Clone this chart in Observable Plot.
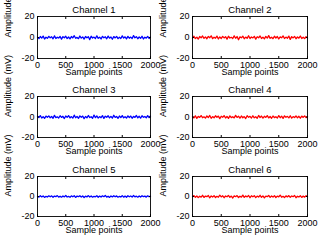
<!DOCTYPE html>
<html>
<head>
<meta charset="utf-8">
<script src="https://cdn.jsdelivr.net/npm/d3@7"></script>
<script src="https://cdn.jsdelivr.net/npm/@observablehq/plot@0.6"></script>
<style>
  html, body { margin: 0; padding: 0; background: #fff; }
  #chart { position: relative; width: 320px; height: 243px; overflow: hidden; }
  #chart > div { position: absolute; }
  svg { overflow: visible; }
</style>
</head>
<body>
<div id="chart"></div>
<script>
const titles = ["Channel 1", "Channel 2", "Channel 3", "Channel 4", "Channel 5", "Channel 6"];
const colors = ["#0000ff", "#ff0000", "#0000ff", "#ff0000", "#0000ff", "#ff0000"];
const xTicks = [0, 500, 1000, 1500, 2000];
const yTicks = [-20, 0, 20];
const xLabel = "Sample points";
const yLabel = "Amplitude (mV)";

const ch1 = [0.4,-1.1,0.9,-0.6,1.3,-1.4,0.2,-0.8,1.1,-0.3,0.7,-1.2,1.5,-0.9,0.3,-0.5,1.0,-1.6,0.8,-0.2,1.2,-1.0,0.5,-1.3,0.9,-0.4,1.7,-0.7,0.1,-1.1,1.4,-0.6,0.6,-1.5,1.0,-0.3,0.8,-2.0,1.2,-0.5,0.4,-1.0,1.6,-0.8,0.3,-1.4,1.1,-0.2,0.7,-1.2,1.3,-0.6,0.5,-1.7,0.9,-0.4,1.0,-1.1,0.2,-0.9,1.5,-0.5,0.6,-1.3,1.1,-0.7,0.4,-1.0,1.8,-0.3,0.8,-1.2,0.5,-0.8,1.2,-1.4,0.3,-0.6,1.0,-0.9,0.6];
const ch2 = [-0.6,1.2,-1.0,0.4,-1.5,0.9,-0.3,1.4,-0.8,0.6,-1.2,1.0,-0.2,1.6,-1.1,0.3,-0.7,1.3,-1.4,0.5,-0.9,1.1,-0.4,0.8,-1.6,1.2,-0.5,0.2,-1.0,1.5,-0.7,0.9,-2.1,0.6,-0.3,1.3,-1.2,0.4,-0.8,1.7,-1.0,0.5,-0.4,1.1,-1.5,0.7,-0.2,1.4,-0.9,0.3,-1.3,1.0,-0.6,1.8,-0.8,0.2,-1.1,1.2,-0.5,0.9,-1.4,0.6,-0.3,1.5,-1.0,0.4,-0.7,1.3,-1.8,0.8,-0.4,1.0,-1.2,0.5,-0.6,1.4,-0.9,0.3,-1.1,0.7,-0.5];
const ch3 = [0.8,-0.5,1.3,-1.0,0.3,-1.4,0.9,-0.2,1.1,-0.8,0.5,-1.2,1.6,-0.6,0.2,-1.0,1.2,-0.4,0.7,-1.5,1.0,-0.3,1.4,-0.9,0.4,-1.1,1.8,-0.7,0.6,-1.3,1.1,-0.2,0.9,-1.6,0.5,-0.8,1.5,-0.5,0.3,-1.2,1.9,-0.6,1.0,-1.0,0.4,-0.7,1.3,-1.4,0.8,-0.3,1.2,-0.9,0.6,-1.1,1.7,-0.4,0.5,-1.3,1.0,-0.6,1.4,-0.8,0.3,-1.0,1.1,-0.5,0.9,-1.2,0.6,-0.4,1.5,-0.9,0.7,-1.1,1.2,-0.3,0.5,-0.8,1.3,-0.6,1.0];
const ch4 = [0.3,-0.9,1.1,-1.3,0.6,-0.4,1.4,-0.7,0.2,-1.1,1.0,-0.5,1.5,-1.2,0.4,-0.8,1.2,-0.3,0.9,-1.6,0.7,-0.2,1.3,-1.0,0.5,-1.4,1.1,-0.6,0.3,-0.9,1.6,-0.4,0.8,-1.2,1.0,-0.7,0.4,-1.5,1.3,-0.3,0.6,-1.0,1.2,-0.8,0.2,-1.3,1.5,-0.5,0.9,-1.1,0.7,-0.4,1.4,-0.9,0.5,-1.2,1.0,-0.6,0.3,-1.0,1.3,-0.7,0.8,-1.4,1.1,-0.3,0.6,-0.9,1.2,-1.1,0.4,-0.5,1.0,-0.8,0.7,-1.2,0.9,-0.4,1.1,-0.6,0.5];
const ch5 = [0.3,-0.6,0.8,-0.4,0.5,-0.9,0.2,-0.5,0.7,-0.3,0.6,-0.8,0.4,-0.2,0.9,-0.6,0.3,-0.7,0.5,-0.4,1.0,-0.5,0.2,-0.8,0.6,-0.3,0.7,-0.9,0.4,-0.2,0.8,-0.6,0.5,-1.0,0.3,-0.4,0.9,-0.5,0.6,-0.7,0.2,-0.3,0.8,-0.8,0.4,-0.5,0.7,-0.2,1.1,-0.6,0.3,-0.9,0.5,-0.4,0.8,-0.3,0.6,-0.7,0.2,-0.5,0.9,-0.6,0.4,-0.8,0.7,-0.3,0.5,-0.6,1.0,-0.4,0.3,-0.7,0.6,-0.5,0.8,-0.2,0.4,-0.6,0.7,-0.3,0.5];
const ch6 = [-0.4,0.9,-0.7,0.5,-1.1,0.3,-0.6,1.2,-0.9,0.4,-0.2,1.0,-1.3,0.6,-0.5,0.8,-1.0,0.2,-0.7,1.3,-0.4,0.7,-1.2,0.5,-0.3,1.1,-0.8,0.4,-1.5,0.6,-0.2,0.9,-1.0,0.3,-0.6,1.4,-0.9,0.5,-0.4,1.0,-1.2,0.7,-0.3,0.8,-1.1,0.4,-0.5,1.2,-0.8,0.6,-1.4,0.3,-0.2,1.1,-0.9,0.5,-0.6,0.8,-1.0,0.4,-0.3,1.3,-0.7,0.2,-1.1,0.6,-0.4,0.9,-0.8,0.5,-0.2,1.0,-1.2,0.3,-0.5,0.7,-0.9,0.4,-0.6,0.8,-0.3];
const channels = [ch1, ch2, ch3, ch4, ch5, ch6];

// layout (pixels)
const colLayout = [{left: 0, ml: 37, mr: 10}, {left: 160, ml: 32, mr: 13}];
const rowLayout = [{top: 0, mt: 16, mb: 23}, {top: 81, mt: 15, mb: 25}, {top: 162, mt: 14, mb: 27}];
const font = "Liberation Sans, Arial, Helvetica, sans-serif";

const root = document.getElementById("chart");
channels.forEach((vals, k) => {
  const col = colLayout[k % 2], row = rowLayout[Math.floor(k / 2)];
  const n = vals.length;
  const data = vals.map((v, i) => ({x: i * 2000 / (n - 1), y: v}));
  const tickOpts = {tickSize: -2, tickFormat: () => "", label: null, stroke: "#000"};
  const plot = Plot.plot({
    width: 160, height: 81,
    marginLeft: col.ml, marginRight: col.mr, marginTop: row.mt, marginBottom: row.mb,
    style: {fontFamily: font, fontSize: "9px", color: "#000", background: "transparent", overflow: "visible"},
    x: {domain: [0, 2000]},
    y: {domain: [-20, 20]},
    marks: [
      Plot.lineY(data, {x: "x", y: "y", stroke: colors[k], strokeWidth: 1.3}),
      Plot.frame({stroke: "#000", strokeWidth: 0.9}),
      Plot.axisX({anchor: "bottom", ticks: xTicks, tickSize: 0, tickPadding: 3, label: null, fontSize: 9, tickFormat: d => String(d)}),
      Plot.axisX({anchor: "bottom", ticks: xTicks, ...tickOpts}),
      Plot.axisX({anchor: "top", ticks: xTicks, ...tickOpts}),
      Plot.axisY({anchor: "left", ticks: yTicks, tickSize: 0, tickPadding: 3, label: null, fontSize: 9, tickFormat: d => String(d)}),
      Plot.axisY({anchor: "left", ticks: yTicks, ...tickOpts}),
      Plot.axisY({anchor: "right", ticks: yTicks, ...tickOpts}),
      Plot.text([titles[k]], {frameAnchor: "top", lineAnchor: "bottom", dy: -4, fontSize: 9.5, fill: "#000"}),
      Plot.text([xLabel], {frameAnchor: "bottom", dy: 16.5, fontSize: 9, fill: "#000"}),
      Plot.text([yLabel], {frameAnchor: "left", rotate: -90, dx: -29, fontSize: 9, fill: "#000"})
    ]
  });
  const wrap = document.createElement("div");
  wrap.style.left = col.left + "px";
  wrap.style.top = row.top + "px";
  wrap.appendChild(plot);
  root.appendChild(wrap);
});
</script>
</body>
</html>
